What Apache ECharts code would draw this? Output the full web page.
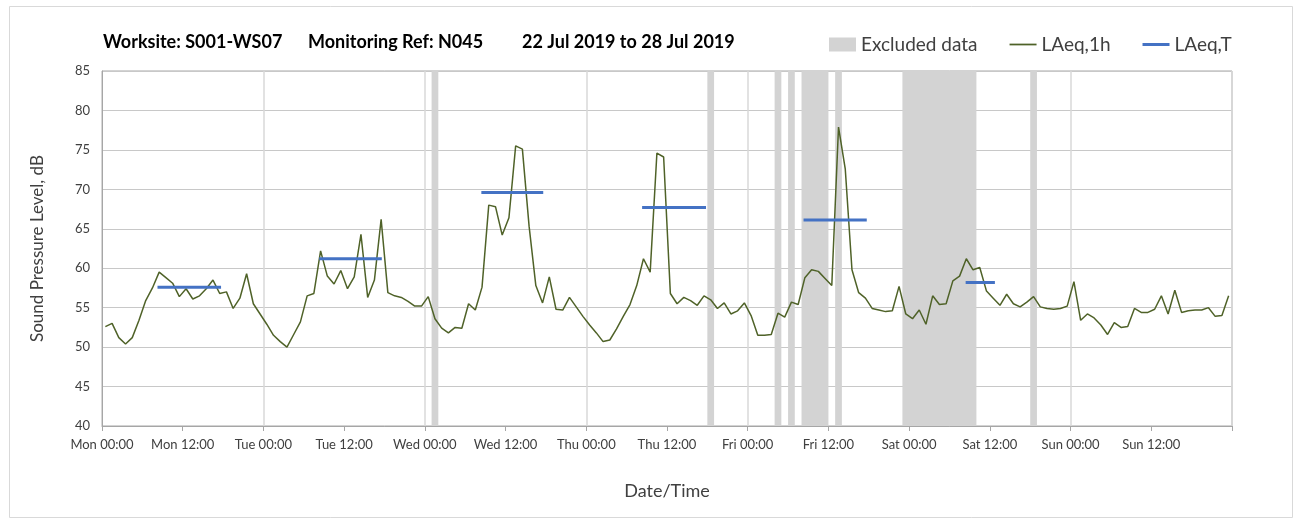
<!DOCTYPE html>
<html>
<head>
<meta charset="utf-8">
<script src="https://cdn.jsdelivr.net/npm/echarts@6/dist/echarts.min.js"></script>
<style>
html,body{margin:0;padding:0;background:#fff;}
#chart{width:1298px;height:524px;}
</style>
</head>
<body>
<div id="chart"></div>
<script>
// Tick labels every 12 hours, starting Mon 00:00
const tickLabels = ['Mon 00:00','Mon 12:00','Tue 00:00','Tue 12:00','Wed 00:00','Wed 12:00',
  'Thu 00:00','Thu 12:00','Fri 00:00','Fri 12:00','Sat 00:00','Sat 12:00','Sun 00:00','Sun 12:00'];

// Title pieces
const titleParts = ['Worksite: S001-WS07', 'Monitoring Ref: N045', '22 Jul 2019 to 28 Jul 2019'];

// Hourly LAeq,1h values (one per hour, Mon 00:00 .. Sun 23:00)
const laeq1h = [
  52.6,53.0,51.2,50.4,51.2,53.4,55.9,57.5,59.5,58.8,58.1,56.4,57.4,56.1,56.5,57.4,58.5,56.8,57.0,54.9,56.2,59.3,55.5,54.2,
  52.9,51.5,50.7,50.0,51.6,53.2,56.5,56.8,62.2,59.0,58.0,59.7,57.4,58.9,64.3,56.3,58.5,66.2,56.9,56.5,56.3,55.8,55.2,55.2,
  56.4,53.6,52.4,51.8,52.5,52.4,55.5,54.7,57.6,68.0,67.8,64.2,66.4,75.5,75.1,65.3,57.8,55.6,58.9,54.8,54.7,56.3,55.1,53.9,
  52.8,51.8,50.7,50.9,52.3,53.9,55.4,57.8,61.2,59.5,74.6,74.1,56.8,55.5,56.3,55.9,55.3,56.5,56.0,54.9,55.6,54.2,54.6,55.6,
  54.0,51.5,51.5,51.6,54.3,53.8,55.7,55.4,58.8,59.8,59.6,58.7,57.8,77.9,72.6,59.8,56.9,56.2,54.9,54.7,54.5,54.6,57.7,54.2,
  53.6,54.7,52.9,56.5,55.4,55.5,58.4,59.0,61.2,59.8,60.1,57.1,56.2,55.3,56.7,55.5,55.1,55.7,56.4,55.1,54.9,54.8,54.9,55.2,
  58.3,53.4,54.2,53.7,52.8,51.6,53.1,52.5,52.6,54.9,54.4,54.4,54.8,56.5,54.2,57.2,54.4,54.6,54.7,54.7,55.0,53.9,54.0,56.5
];

// LAeq,T daytime periods: start hour, end hour, level
const periodStart = [8.25, 32.3, 56.4, 80.3, 104.3, 128.4];
const periodEnd   = [17.7, 41.6, 65.6, 89.8, 113.7, 132.75];
const periodLevel = [57.6, 61.2, 69.6, 67.7, 66.1, 58.2];

// Excluded data periods (hours from Mon 00:00)
const excludedStart = [49, 90, 100, 102, 104, 109, 119, 138];
const excludedEnd   = [50, 91, 101, 103, 108, 110, 130, 139];

const hourlyData = laeq1h.map((v, i) => [i + 0.5, v]);

const FONT = 'Lato, "Open Sans", sans-serif';
const TXT = '#404040';

const series = [
  {
    name: 'Excluded data',
    type: 'line',
    data: [],
    symbol: 'none',
    itemStyle: { color: '#d3d3d3' },
    markArea: {
      silent: true,
      itemStyle: { color: '#d3d3d3' },
      data: excludedStart.map((s, k) => [{ xAxis: s }, { xAxis: excludedEnd[k] }])
    }
  },
  {
    name: 'LAeq,1h',
    type: 'line',
    data: hourlyData,
    symbol: 'none',
    lineStyle: { color: '#4f6228', width: 1.5 },
    itemStyle: { color: '#4f6228' },
    z: 3
  }
];
periodStart.forEach((s, k) => {
  series.push({
    name: 'LAeq,T',
    type: 'line',
    data: [[s, periodLevel[k]], [periodEnd[k], periodLevel[k]]],
    symbol: 'none',
    lineStyle: { color: '#4472c4', width: 3 },
    itemStyle: { color: '#4472c4' },
    z: 4
  });
});

const titleLeft = [103, 308, 522];

const chart = echarts.init(document.getElementById('chart'), null, { renderer: 'canvas' });
chart.setOption({
  animation: false,
  backgroundColor: '#fff',
  graphic: [{
    type: 'rect', left: 7, top: 4, silent: true,
    shape: { width: 1283, height: 511 },
    style: { fill: 'none', stroke: '#d9d9d9', lineWidth: 1 }
  }],
  title: titleParts.map((t, k) => ({
    text: t, left: titleLeft[k], top: 33, padding: 0,
    textStyle: { fontFamily: FONT, fontSize: 18, fontWeight: 'bold', color: '#000' }
  })),
  legend: {
    left: 829, top: 35, padding: 0,
    itemGap: 32, itemWidth: 27, itemHeight: 14,
    textStyle: { fontFamily: FONT, fontSize: 19, color: TXT },
    data: [
      { name: 'Excluded data', icon: 'rect' },
      { name: 'LAeq,1h', icon: 'path://M0,0 L20,0 L20,1.3 L0,1.3 Z' },
      { name: 'LAeq,T', icon: 'path://M0,0 L27,0 L27,3 L0,3 Z' }
    ]
  },
  grid: {
    left: 102, right: 66, top: 71, bottom: 98,
    show: true, borderColor: '#a6a6a6', borderWidth: 1, backgroundColor: 'transparent'
  },
  xAxis: [
    {
      type: 'value', min: 0, max: 168, interval: 12,
      name: 'Date/Time', nameLocation: 'middle', nameGap: 56,
      nameTextStyle: { fontFamily: FONT, fontSize: 18, color: TXT },
      axisLine: { show: true, lineStyle: { color: '#a6a6a6', width: 1 } },
      axisTick: { show: true, length: 5, lineStyle: { color: '#a6a6a6' } },
      axisLabel: {
        fontFamily: FONT, fontSize: 13, color: TXT, margin: 12,
        formatter: v => { const k = Math.round(v / 12); return k < tickLabels.length ? tickLabels[k] : ''; }
      },
      splitLine: { show: false }
    },
    {
      type: 'value', min: 0, max: 168, interval: 24, position: 'bottom',
      axisLine: { show: false }, axisTick: { show: false }, axisLabel: { show: false },
      splitLine: { show: true, lineStyle: { color: '#d9d9d9', width: 1.5 } }
    }
  ],
  yAxis: {
    type: 'value', min: 40, max: 85, interval: 5,
    name: 'Sound Pressure Level, dB', nameLocation: 'middle', nameGap: 56,
    nameTextStyle: { fontFamily: FONT, fontSize: 17, color: TXT },
    axisLine: { show: true, lineStyle: { color: '#a6a6a6', width: 1 } },
    axisTick: { show: false },
    axisLabel: { fontFamily: FONT, fontSize: 13, color: TXT, margin: 12 },
    splitLine: { show: true, lineStyle: { color: '#c8c8c8', width: 1.2 } }
  },
  series: series
});
</script>
</body>
</html>
